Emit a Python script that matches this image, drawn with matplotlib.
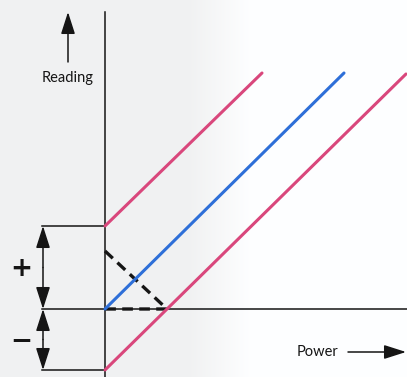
import numpy as np
import matplotlib.pyplot as plt

# Line endpoints: (power, reading) in drawing units, origin at the axes crossing
upper_power = [0, 157]
upper_reading = [83, 236]
ideal_power = [0, 239]
ideal_reading = [0, 236]
lower_power = [0, 301]
lower_reading = [-61, 235]

# Dashed triangle showing the zero offset
dash_power = [0, 62, 0]
dash_reading = [58, 0, 0]

offset_pos = 83
offset_neg = -61

PINK = "#d9477c"
BLUE = "#2e6fd8"
INK = "#151515"

fig = plt.figure(figsize=(4.07, 3.77), dpi=100)
ax = fig.add_axes([0, 0, 1, 1])
ax.set_xlim(-105, 302)
ax.set_ylim(-68, 309)
ax.axis("off")

# paper tone: slightly grey on the left, white on the right
grad_x = np.linspace(-105, 302, 407)
tone = np.clip((grad_x - 85) / 60, 0, 1)
shade = 0.95 + 0.05 * tone
img = np.dstack([shade * 0.994, shade * 0.997, shade])
img = np.repeat(img, 2, axis=0)
ax.imshow(img, extent=[-105, 302, -68, 309], aspect="auto", zorder=0)

# axes
ax.plot([0, 0], [-68, 297], color=INK, lw=1.1, zorder=2)
ax.plot([-63, 302], [0, 0], color=INK, lw=1.1, zorder=2)
ax.plot([-63, 0], [offset_pos, offset_pos], color=INK, lw=1.1, zorder=2)
ax.plot([-63, 0], [offset_neg, offset_neg], color=INK, lw=1.1, zorder=2)

# response lines
ax.plot(upper_power, upper_reading, color=PINK, lw=2.2, solid_capstyle="round", zorder=3)
ax.plot(ideal_power, ideal_reading, color=BLUE, lw=2.2, solid_capstyle="round", zorder=3)
ax.plot(lower_power, lower_reading, color=PINK, lw=2.2, solid_capstyle="round", zorder=3)
ax.plot(dash_power, dash_reading, color=INK, lw=2.4, ls=(0, (3.2, 1.9)), zorder=2)

# offset span arrows
arrow = dict(arrowstyle="-|>,head_length=0.75,head_width=0.24", color=INK, lw=1.1,
             shrinkA=0, shrinkB=0, mutation_scale=18)
mid_pos = offset_pos / 2
mid_neg = offset_neg / 2
for start, end in [(mid_pos, offset_pos), (mid_pos, 0), (mid_neg, 0), (mid_neg, offset_neg)]:
    ax.annotate("", xy=(-62, end), xytext=(-62, start), arrowprops=arrow, zorder=3)

ax.text(-84, mid_pos - 1, "+", fontsize=19, ha="center", va="center", color=INK,
        family="DejaVu Sans", fontweight="bold")
ax.text(-84, mid_neg - 2, "\u2212", fontsize=19, ha="center", va="center", color=INK,
        family="DejaVu Sans", fontweight="bold")

# axis titles with arrows
ax.text(-37, 231, "Reading", fontsize=10.5, ha="center", va="center", color=INK, family="Lato")
ax.annotate("", xy=(-37, 297), xytext=(-37, 247), arrowprops=arrow)
ax.text(213, -43, "Power", fontsize=10.5, ha="center", va="center", color=INK, family="Lato")
ax.annotate("", xy=(301, -43), xytext=(243, -43), arrowprops=arrow)

fig.savefig("out.png", dpi=100)
